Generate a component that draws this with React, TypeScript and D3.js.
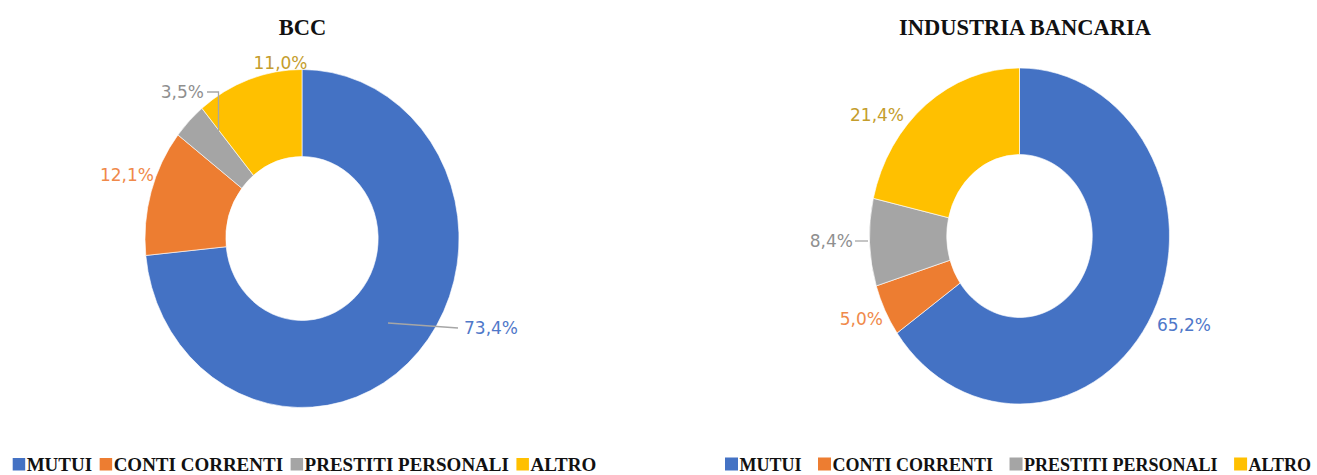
import React, { useEffect, useRef } from 'react';
import * as d3 from 'd3';

const categories = ['MUTUI', 'CONTI CORRENTI', 'PRESTITI PERSONALI', 'ALTRO'];
const colors = ['#4472c4', '#ed7d31', '#a5a5a5', '#ffc000'];
const labelColors = ['#4f78c9', '#f0894a', '#8f8f8f', '#c49d2c'];

const bccValues = [73.4, 12.1, 3.5, 11.0];
const industryValues = [65.2, 5.0, 8.4, 21.4];

const fmt = (v: number) => v.toFixed(1).replace('.', ',') + '%';

// layout of each donut: centre, radii, label offsets (relative to centre)
const charts = [
  {
    title: 'BCC',
    values: bccValues,
    cx: 302,
    cy: 238.5,
    rx: 157,
    ry: 169,
    titleX: 302.5,
    labels: [
      { x: 162, y: 89.5, anchor: 'start', leader: [[86, 84.5], [156, 89.5]] },
      { x: -148, y: -63.5, anchor: 'end' },
      { x: -98, y: -146.5, anchor: 'end', leader: [[-95, -146.5], [-83.5, -146.5], [-83.5, -107.5]] },
      { x: -21.5, y: -175.5, anchor: 'middle' },
    ],
    legend: { x: 12.7, size: 19, gap: 7.5, sq: 12.5 },
  },
  {
    title: 'INDUSTRIA BANCARIA',
    values: industryValues,
    cx: 1019.5,
    cy: 236,
    rx: 150,
    ry: 168,
    titleX: 1025,
    labels: [
      { x: 137.5, y: 89, anchor: 'start' },
      { x: -136.5, y: 83, anchor: 'end' },
      { x: -166.5, y: 5, anchor: 'end', leader: [[-164.5, 5], [-151.5, 5]] },
      { x: -142.5, y: -121, anchor: 'middle' },
    ],
    legend: { x: 725, size: 18, gap: 16.5, sq: 13 },
  },
];

export default function App() {
  const ref = useRef<SVGSVGElement>(null);

  useEffect(() => {
    const svg = d3.select(ref.current);
    svg.selectAll('*').remove();

    const pie = d3.pie<number>().sort(null).value((d) => d);

    charts.forEach((c) => {
      const arc = d3
        .arc<d3.PieArcDatum<number>>()
        .innerRadius(c.rx * 0.485)
        .outerRadius(c.rx);

      const g = svg.append('g').attr('transform', `translate(${c.cx},${c.cy})`);
      g.append('g')
        .attr('transform', `scale(1,${c.ry / c.rx})`)
        .selectAll('path')
        .data(pie(c.values))
        .join('path')
        .attr('d', arc)
        .attr('fill', (_, i) => colors[i])
        .attr('stroke', '#fff')
        .attr('stroke-width', 0.6);

      c.labels.forEach((l, i) => {
        if (l.leader) {
          g.append('path')
            .attr('d', d3.line()(l.leader as [number, number][]))
            .attr('fill', 'none')
            .attr('stroke', '#a6a6a6')
            .attr('stroke-width', 1.3);
        }
        g.append('text')
          .attr('x', l.x)
          .attr('y', l.y)
          .attr('text-anchor', l.anchor)
          .attr('dominant-baseline', 'central')
          .attr('font-family', 'DejaVu Sans, sans-serif')
          .attr('font-size', 17)
          .attr('fill', labelColors[i])
          .text(fmt(c.values[i]));
      });

      svg
        .append('text')
        .attr('x', c.titleX)
        .attr('y', 35)
        .attr('text-anchor', 'middle')
        .attr('font-family', 'Liberation Serif, serif')
        .attr('font-weight', 'bold')
        .attr('font-size', 22.5)
        .attr('fill', '#111')
        .text(c.title);

      // legend row
      const lg = svg.append('g');
      let x = c.legend.x;
      const base = 470.5;
      categories.forEach((cat, i) => {
        lg.append('rect')
          .attr('x', x)
          .attr('y', base - c.legend.sq)
          .attr('width', c.legend.sq)
          .attr('height', c.legend.sq)
          .attr('fill', colors[i]);
        x += c.legend.sq + 1.5;
        const t = lg
          .append('text')
          .attr('x', x)
          .attr('y', base)
          .attr('font-family', 'Liberation Serif, serif')
          .attr('font-weight', 'bold')
          .attr('font-size', c.legend.size)
          .attr('fill', '#111')
          .text(cat);
        x += (t.node() as SVGTextElement).getComputedTextLength() + c.legend.gap;
      });
    });
  }, []);

  return (
    <svg
      ref={ref}
      width={1317}
      height={475}
      style={{ position: 'absolute', left: 0, top: 0, background: '#fff' }}
    />
  );
}
